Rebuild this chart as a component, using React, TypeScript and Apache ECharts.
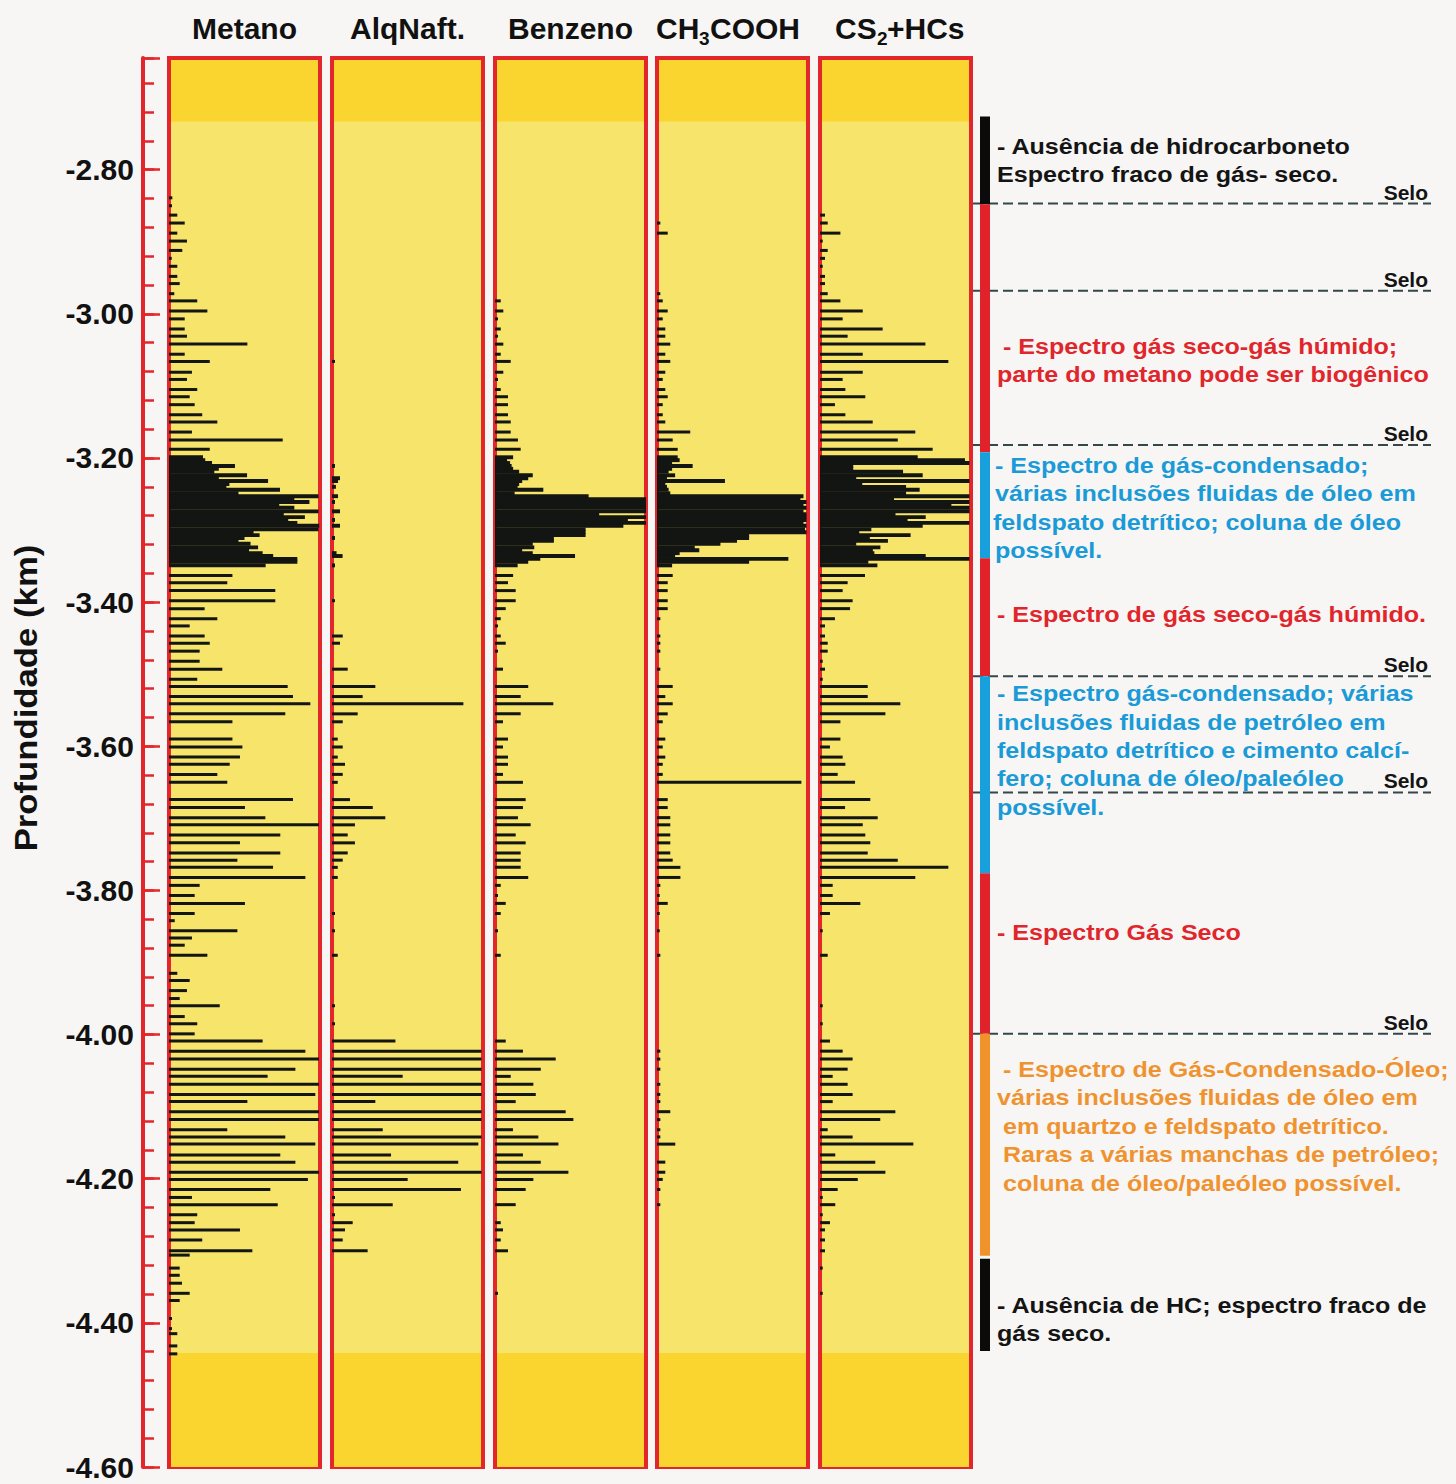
import React, { useEffect, useRef } from "react";
import * as echarts from "echarts";

// Depth range of the log (km, negative downwards)
const DEPTH_MIN = -4.6;
const DEPTH_MAX = -2.645;

const TRACK_NAMES = ["Metano", "AlqNaft.", "Benzeno", "CH3COOH", "CS2+HCs"];

// Closely spaced samples across the main show (-3.20 to -3.35 km)
const DENSE_DEPTHS = [
  -3.199, -3.203, -3.207, -3.211, -3.215, -3.219, -3.224, -3.228, -3.232, -3.236,
  -3.24, -3.244, -3.249, -3.253, -3.257, -3.261, -3.265, -3.269, -3.274, -3.278,
  -3.282, -3.286, -3.29, -3.294, -3.299, -3.303, -3.307, -3.311, -3.315, -3.319,
  -3.324, -3.328, -3.332, -3.336, -3.34, -3.344, -3.349,
];

// Relative response (% of track width) at each dense depth
const METANO_DENSE = [
  22.5, 24, 28.5, 43.7, 33, 30, 51.7, 33, 65.6, 40, 38, 73.5, 46, 99, 83, 93, 73, 83, 99,
  76, 90, 79, 85, 99.5, 99, 56, 60, 50, 46, 54, 59, 53, 62, 69, 85, 85, 64,
];
const ALQNAFT_DENSE = [
  0, 0, 0, 2, 0, 0, 0, 5.3, 4, 0, 2.6, 0, 0, 4, 0, 2, 0, 0, 5.3, 0, 0, 2, 0, 5.3, 0, 0, 0,
  2, 0, 0, 0, 0, 3, 7, 0, 0, 2,
];
const BENZENO_DENSE = [
  12, 8, 10, 11, 12, 16, 25, 22, 18, 16, 15, 32, 13, 62, 100, 100, 100, 100, 100, 69, 100,
  88, 100, 85, 60, 60, 60, 39, 39, 25, 26, 18, 25, 53, 30, 22, 15,
];
const ACETICO_DENSE = [
  13.7, 15, 10, 23.6, 10, 7.7, 12, 6.6, 45, 5.5, 6.6, 7.7, 8.8, 97, 95, 99, 97, 99, 97, 99,
  99, 99, 97, 99, 98, 99, 61, 61, 53, 42, 25, 28, 15, 12, 87, 61, 10,
];
const CS2_DENSE = [
  64.7, 96, 99, 22, 22, 55, 68, 24, 99, 28, 57, 66, 57, 99, 49, 99, 87, 99, 99, 50, 70, 58,
  99, 68, 34, 26, 60, 33, 45, 24, 40, 35, 36, 70, 99, 32, 38,
];

// Individual samples elsewhere: [depth km, response %]
const METANO = [
  [-2.839, 2.2], [-2.85, 2.0], [-2.863, 5.5], [-2.874, 10.4], [-2.888, 5.5], [-2.899, 11.9],
  [-2.912, 8.8], [-2.923, 1.8], [-2.934, 5.5], [-2.948, 5.5], [-2.958, 7.1], [-2.972, 3.5],
  [-2.982, 18.7], [-2.996, 25.4], [-3.007, 10.4], [-3.021, 10.4], [-3.031, 11.9], [-3.042, 51.9],
  [-3.056, 10.4], [-3.066, 27.0], [-3.081, 15.2], [-3.091, 11.9], [-3.105, 18.7], [-3.115, 13.7],
  [-3.126, 17.0], [-3.14, 22.0], [-3.15, 32.0], [-3.164, 15.2], [-3.175, 75.3], [-3.188, 27.0],
  [-3.363, 42.0], [-3.373, 38.6], [-3.384, 70.4], [-3.398, 70.4], [-3.409, 23.6], [-3.423, 32.0],
  [-3.433, 13.7], [-3.447, 23.6], [-3.457, 27.0], [-3.468, 20.3], [-3.482, 20.3], [-3.493, 35.3],
  [-3.507, 18.7], [-3.517, 78.6], [-3.531, 82.1], [-3.541, 93.6], [-3.555, 77.0], [-3.566, 42.0],
  [-3.59, 42.0], [-3.601, 48.6], [-3.615, 47.0], [-3.625, 40.2], [-3.639, 32.0], [-3.65, 38.6],
  [-3.674, 82.1], [-3.685, 50.3], [-3.699, 63.8], [-3.709, 99.3], [-3.723, 73.7], [-3.734, 47.0],
  [-3.748, 73.7], [-3.758, 45.3], [-3.768, 68.9], [-3.782, 90.3], [-3.793, 20.3], [-3.807, 17.0],
  [-3.818, 50.3], [-3.832, 17.0], [-3.842, 3.8], [-3.856, 45.3], [-3.866, 15.2], [-3.876, 10.4],
  [-3.89, 25.4], [-3.915, 5.5], [-3.925, 13.7], [-3.939, 11.9], [-3.95, 7.1], [-3.96, 33.6],
  [-3.975, 10.4], [-3.985, 18.7], [-3.999, 17.0], [-4.009, 62.0], [-4.023, 90.3], [-4.034, 99.3],
  [-4.048, 83.7], [-4.058, 65.3], [-4.069, 99.3], [-4.083, 96.9], [-4.093, 51.9], [-4.107, 99.3],
  [-4.118, 99.3], [-4.132, 38.6], [-4.142, 77.0], [-4.152, 96.9], [-4.167, 73.7], [-4.177, 83.7],
  [-4.191, 99.3], [-4.201, 92.0], [-4.215, 67.1], [-4.226, 15.2], [-4.236, 72.0], [-4.25, 18.7],
  [-4.261, 17.0], [-4.271, 47.0], [-4.285, 22.0], [-4.3, 55.2], [-4.306, 13.7], [-4.324, 7.1],
  [-4.334, 7.1], [-4.345, 8.6], [-4.359, 13.7], [-4.369, 7.1], [-4.394, 2.0], [-4.408, 2.0],
  [-4.415, 5.5], [-4.432, 5.5], [-4.443, 5.5],
];

const ALQNAFT = [
  [-3.066, 2.0], [-3.398, 2.0], [-3.447, 7.1], [-3.457, 5.3], [-3.493, 10.4], [-3.517, 28.7],
  [-3.531, 20.3], [-3.541, 87.0], [-3.555, 17.0], [-3.566, 7.1], [-3.59, 3.8], [-3.601, 7.1],
  [-3.615, 3.8], [-3.625, 8.6], [-3.639, 7.1], [-3.65, 3.8], [-3.674, 11.9], [-3.685, 27.0],
  [-3.699, 35.3], [-3.709, 15.2], [-3.723, 10.4], [-3.734, 15.2], [-3.748, 10.4], [-3.758, 7.1],
  [-3.768, 3.8], [-3.782, 3.8], [-3.832, 2.0], [-3.856, 2.0], [-3.89, 3.8], [-3.96, 2.0],
  [-3.985, 2.0], [-4.009, 42.0], [-4.023, 99.0], [-4.034, 99.0], [-4.048, 99.0], [-4.058, 46.8],
  [-4.069, 99.0], [-4.083, 99.0], [-4.093, 28.7], [-4.107, 99.0], [-4.118, 99.0], [-4.132, 33.6],
  [-4.142, 99.0], [-4.152, 96.9], [-4.167, 39.1], [-4.177, 83.6], [-4.191, 99.0], [-4.201, 50.1],
  [-4.215, 85.4], [-4.226, 2.0], [-4.236, 40.2], [-4.25, 2.0], [-4.261, 13.7], [-4.271, 8.6],
  [-4.285, 7.1], [-4.3, 23.6],
];

const BENZENO = [
  [-2.982, 3.8], [-2.996, 5.5], [-3.007, 2.0], [-3.021, 3.8], [-3.031, 2.0], [-3.042, 5.5],
  [-3.056, 3.8], [-3.066, 10.4], [-3.081, 5.5], [-3.091, 2.0], [-3.105, 3.8], [-3.115, 8.6],
  [-3.126, 8.6], [-3.14, 8.6], [-3.15, 10.4], [-3.164, 10.4], [-3.175, 15.2], [-3.188, 17.0],
  [-3.363, 12.0], [-3.373, 8.6], [-3.384, 13.7], [-3.398, 13.7], [-3.409, 7.1], [-3.423, 3.8],
  [-3.433, 2.0], [-3.447, 3.8], [-3.457, 7.1], [-3.468, 2.0], [-3.493, 5.3], [-3.517, 22.0],
  [-3.531, 17.0], [-3.541, 38.6], [-3.555, 17.0], [-3.566, 5.3], [-3.59, 8.6], [-3.601, 5.3],
  [-3.615, 8.6], [-3.625, 8.6], [-3.639, 5.3], [-3.65, 18.5], [-3.674, 20.3], [-3.685, 18.5],
  [-3.699, 15.2], [-3.709, 23.6], [-3.723, 13.7], [-3.734, 20.3], [-3.748, 17.0], [-3.758, 17.0],
  [-3.768, 17.0], [-3.782, 22.0], [-3.793, 3.8], [-3.807, 2.0], [-3.818, 7.1], [-3.832, 3.8],
  [-3.856, 2.0], [-3.89, 3.8], [-4.009, 7.1], [-4.023, 18.5], [-4.034, 40.2], [-4.048, 30.3],
  [-4.058, 10.4], [-4.069, 25.4], [-4.083, 27.0], [-4.093, 13.7], [-4.107, 46.8], [-4.118, 51.9],
  [-4.132, 11.9], [-4.142, 28.7], [-4.152, 42.0], [-4.167, 18.5], [-4.177, 30.3], [-4.191, 48.6],
  [-4.201, 25.4], [-4.215, 20.3], [-4.236, 13.7], [-4.261, 3.8], [-4.271, 5.3], [-4.285, 3.8],
  [-4.3, 8.6], [-4.359, 2.0],
];

const ACETICO = [
  [-2.874, 2.2], [-2.888, 7.1], [-2.972, 2.2], [-2.982, 3.8], [-2.996, 7.1], [-3.007, 3.8],
  [-3.021, 5.5], [-3.031, 5.5], [-3.042, 8.8], [-3.056, 5.5], [-3.066, 8.8], [-3.081, 5.5],
  [-3.091, 3.8], [-3.105, 5.5], [-3.115, 7.1], [-3.126, 3.8], [-3.14, 3.8], [-3.15, 5.5],
  [-3.164, 22.0], [-3.175, 10.4], [-3.188, 13.7], [-3.363, 10.4], [-3.373, 7.1], [-3.384, 7.1],
  [-3.398, 7.1], [-3.409, 7.1], [-3.423, 2.2], [-3.447, 2.2], [-3.457, 2.2], [-3.468, 2.2],
  [-3.493, 2.2], [-3.517, 10.4], [-3.531, 5.5], [-3.541, 10.4], [-3.555, 7.1], [-3.566, 3.8],
  [-3.59, 5.5], [-3.601, 3.8], [-3.615, 5.5], [-3.625, 3.8], [-3.639, 3.8], [-3.65, 95.6],
  [-3.674, 7.1], [-3.685, 7.1], [-3.699, 8.8], [-3.709, 8.8], [-3.723, 8.8], [-3.734, 8.8],
  [-3.748, 8.8], [-3.758, 10.4], [-3.768, 15.5], [-3.782, 15.5], [-3.793, 2.2], [-3.807, 1.8],
  [-3.818, 7.1], [-3.832, 1.8], [-3.856, 1.8], [-3.89, 2.2], [-4.023, 2.2], [-4.034, 2.2],
  [-4.048, 2.2], [-4.069, 2.2], [-4.083, 2.2], [-4.093, 2.2], [-4.107, 8.8], [-4.118, 2.2],
  [-4.132, 2.2], [-4.142, 2.2], [-4.152, 12.1], [-4.177, 5.5], [-4.191, 5.5], [-4.201, 3.8],
  [-4.215, 2.2], [-4.236, 2.2],
];

const CS2 = [
  [-2.863, 3.3], [-2.874, 5.1], [-2.888, 13.5], [-2.899, 1.8], [-2.912, 5.1], [-2.923, 3.3],
  [-2.934, 1.8], [-2.948, 3.3], [-2.958, 3.3], [-2.972, 5.1], [-2.982, 13.5], [-2.996, 28.3],
  [-3.007, 15.0], [-3.021, 41.5], [-3.031, 18.3], [-3.042, 69.8], [-3.056, 28.3], [-3.066, 85.0],
  [-3.081, 28.3], [-3.091, 15.0], [-3.105, 16.8], [-3.115, 30.0], [-3.126, 9.9], [-3.14, 16.8],
  [-3.15, 34.9], [-3.164, 63.1], [-3.175, 51.5], [-3.188, 74.6], [-3.363, 29.8], [-3.373, 18.3],
  [-3.384, 15.0], [-3.398, 21.6], [-3.409, 19.9], [-3.423, 9.9], [-3.433, 3.3], [-3.447, 3.3],
  [-3.457, 5.1], [-3.468, 5.1], [-3.482, 1.8], [-3.493, 3.3], [-3.507, 1.8], [-3.517, 31.6],
  [-3.531, 31.6], [-3.541, 53.2], [-3.555, 43.3], [-3.566, 13.5], [-3.59, 13.5], [-3.601, 6.6],
  [-3.615, 15.0], [-3.625, 16.8], [-3.639, 11.7], [-3.65, 23.2], [-3.674, 33.3], [-3.685, 16.6],
  [-3.699, 38.2], [-3.709, 28.3], [-3.723, 30.0], [-3.734, 33.3], [-3.748, 31.6], [-3.758, 51.5],
  [-3.768, 85.0], [-3.782, 63.1], [-3.793, 8.4], [-3.807, 8.4], [-3.818, 26.7], [-3.832, 6.6],
  [-3.856, 1.8], [-3.89, 5.1], [-3.96, 1.8], [-3.985, 1.8], [-4.009, 6.6], [-4.023, 15.0],
  [-4.034, 21.6], [-4.048, 18.3], [-4.058, 8.4], [-4.069, 18.3], [-4.083, 21.6], [-4.093, 8.4],
  [-4.107, 49.9], [-4.118, 39.9], [-4.132, 5.1], [-4.142, 21.6], [-4.152, 61.8], [-4.167, 10.1],
  [-4.177, 36.6], [-4.191, 43.3], [-4.201, 25.0], [-4.215, 11.7], [-4.226, 1.8], [-4.236, 10.1],
  [-4.25, 1.8], [-4.261, 6.6], [-4.271, 3.3], [-4.285, 3.3], [-4.3, 3.3], [-4.324, 1.8],
  [-4.359, 1.8],
];

// Darker bands at the top and bottom of every track: [from, to] depth
const EDGE_BANDS = [
  [-2.733, DEPTH_MAX],
  [DEPTH_MIN, -4.439],
];

// Interpretation column: [top depth, base depth, kind]; kind 0 none,1 dry/wet gas,2 condensate,3 oil
const ZONES = [
  [-2.726, -2.848, 0],
  [-2.848, -3.192, 1],
  [-3.192, -3.339, 2],
  [-3.339, -3.503, 1],
  [-3.503, -3.776, 2],
  [-3.776, -3.999, 1],
  [-3.999, -4.307, 3],
  [-4.311, -4.439, 0],
];

// Seal depths
const SEALS = [-2.847, -2.968, -3.182, -3.503, -3.664, -3.999];

const RED = "#e3262b";
const TRACK_BG = "#f6e46b";
const BAND_BG = "#fbd52f";
const BAR_COLOR = "#121512";
const ZONE_COLORS = ["#0b0b0b", "#e0232b", "#17a0dc", "#f0932b"];
const NOTE_COLORS = { k: "#141414", r: "#e0262c", b: "#1a9ad7", o: "#ef9331" };
const FONT = '"Liberation Sans", Arial, sans-serif';

const TRACK_LEFT = [169, 332, 495, 657, 820];
const TRACK_WIDTH = 151;
const PLOT_TOP = 58;
const PLOT_HEIGHT = 1409;

const SPARSE = [METANO, ALQNAFT, BENZENO, ACETICO, CS2];
const DENSE = [METANO_DENSE, ALQNAFT_DENSE, BENZENO_DENSE, ACETICO_DENSE, CS2_DENSE];

function sparseData(i: number) {
  return SPARSE[i].filter(([, v]) => v > 0).map(([d, v]) => [v, d]);
}

function denseData(i: number) {
  return DENSE[i]
    .map((v, k) => [v, DENSE_DEPTHS[k]])
    .filter((p) => p[0] > 0);
}

function barRenderer(thickness: number) {
  return (_params: any, api: any) => {
    const v = api.value(0);
    const d = api.value(1);
    const a = api.coord([0, d]);
    const b = api.coord([v, d]);
    return {
      type: "rect",
      shape: { x: a[0], y: a[1] - thickness / 2, width: b[0] - a[0], height: thickness },
      style: { fill: BAR_COLOR },
    };
  };
}

function renderBand(_params: any, api: any) {
  const a = api.coord([api.value(0), api.value(3)]);
  const b = api.coord([api.value(2), api.value(1)]);
  return {
    type: "rect",
    shape: { x: a[0] + 2, y: a[1] + 2, width: b[0] - a[0] - 4, height: b[1] - a[1] - 2 },
    style: { fill: BAND_BG },
  };
}

function renderZone(_params: any, api: any) {
  const a = api.coord([0, api.value(1)]);
  const b = api.coord([0, api.value(2)]);
  return {
    type: "rect",
    shape: { x: a[0] + 7, y: a[1], width: 10, height: b[1] - a[1] },
    style: { fill: ZONE_COLORS[api.value(3)] },
  };
}

function renderSeal(_params: any, api: any) {
  const d = api.value(1);
  const a = api.coord([0, d]);
  const b = api.coord([100, d]);
  return {
    type: "group",
    children: [
      {
        type: "line",
        shape: { x1: a[0], y1: a[1], x2: b[0], y2: a[1] },
        style: { stroke: "#34474b", lineWidth: 2, lineDash: [10, 5] },
      },
      {
        type: "text",
        x: b[0] - 3,
        y: a[1] - 1,
        style: {
          text: "Selo",
          fill: "#141414",
          font: `bold 21px ${FONT}`,
          textAlign: "right",
          align: "right",
          textVerticalAlign: "bottom",
          verticalAlign: "bottom",
        },
      },
    ],
  };
}

function depthLabel(v: number) {
  const r = Math.round(v * 100);
  if (r % 20 !== 0) return "";
  return (r / 100).toFixed(2);
}

// Annotation lines: text, left x, centre y, colour
const NOTE_LINES: Array<[string, number, number, keyof typeof NOTE_COLORS]> = [
  ["- Ausência de hidrocarboneto", 997, 147, "k"],
  ["Espectro fraco de gás- seco.", 997, 175, "k"],
  ["- Espectro gás seco-gás húmido;", 1003, 347, "r"],
  ["parte do metano pode ser biogênico", 997, 375, "r"],
  ["- Espectro de gás-condensado;", 995, 466, "b"],
  ["várias inclusões fluidas de óleo em", 995, 494, "b"],
  ["feldspato detrítico; coluna de óleo", 993, 523, "b"],
  ["possível.", 995, 551, "b"],
  ["- Espectro de gás seco-gás húmido.", 997, 615, "r"],
  ["- Espectro gás-condensado; várias", 997, 694, "b"],
  ["inclusões fluidas de petróleo em", 997, 723, "b"],
  ["feldspato detrítico e cimento calcí-", 997, 751, "b"],
  ["fero; coluna de óleo/paleóleo", 997, 779, "b"],
  ["possível.", 997, 808, "b"],
  ["- Espectro Gás Seco", 997, 933, "r"],
  ["- Espectro de Gás-Condensado-Óleo;", 1003, 1070, "o"],
  ["várias inclusões fluidas de óleo em", 997, 1098, "o"],
  ["em quartzo e feldspato detrítico.", 1003, 1127, "o"],
  ["Raras a várias manchas de petróleo;", 1003, 1155, "o"],
  ["coluna de óleo/paleóleo possível.", 1003, 1184, "o"],
  ["- Ausência de HC; espectro fraco de", 997, 1306, "k"],
  ["gás seco.", 997, 1334, "k"],
];

function txt(text: string, x: number, y: number, size: number, align: string, fill = "#111", extra: any = {}) {
  return {
    type: "text",
    x,
    y,
    silent: true,
    ...extra,
    style: {
      text,
      fill,
      font: `bold ${size}px ${FONT}`,
      textAlign: align,
      align,
      textVerticalAlign: "middle",
      verticalAlign: "middle",
    },
  };
}

function buildOption() {
  const grids: any[] = TRACK_LEFT.map((left) => ({
    left,
    top: PLOT_TOP,
    width: TRACK_WIDTH,
    height: PLOT_HEIGHT,
    show: true,
    backgroundColor: TRACK_BG,
    borderColor: RED,
    borderWidth: 4,
  }));
  grids.push({ left: 973, top: PLOT_TOP, width: 458, height: PLOT_HEIGHT, show: false });

  const xAxes = grids.map((_g, i) => ({ gridIndex: i, type: "value", min: 0, max: 100, show: false }));

  const yAxes: any[] = grids.map((_g, i) => {
    if (i > 0) return { gridIndex: i, type: "value", min: DEPTH_MIN, max: DEPTH_MAX, show: false };
    return {
      gridIndex: 0,
      type: "value",
      min: DEPTH_MIN,
      max: DEPTH_MAX,
      interval: 0.04,
      position: "left",
      offset: 26,
      axisLine: { show: true, onZero: false, lineStyle: { color: RED, width: 4 } },
      axisTick: { show: true, inside: true, length: 11, lineStyle: { color: RED, width: 2.5 } },
      axisLabel: {
        show: true,
        formatter: depthLabel,
        fontSize: 30,
        fontWeight: "bold",
        fontFamily: FONT,
        color: "#111",
        margin: 9,
      },
      splitLine: { show: false },
    };
  });
  // longer ticks at every labelled depth
  yAxes.push({
    gridIndex: 0,
    type: "value",
    min: DEPTH_MIN,
    max: DEPTH_MAX,
    interval: 0.2,
    position: "left",
    offset: 26,
    axisLine: { show: false, onZero: false },
    axisTick: { show: true, inside: true, length: 17, lineStyle: { color: RED, width: 2.5 } },
    axisLabel: { show: false },
    splitLine: { show: false },
  });

  const series: any[] = [];
  TRACK_NAMES.forEach((name, i) => {
    series.push({
      type: "custom",
      name: name + " bands",
      xAxisIndex: i,
      yAxisIndex: i,
      silent: true,
      z: 1,
      data: EDGE_BANDS.map(([d1, d2]) => [0, d1, 100, d2]),
      encode: { x: [0, 2], y: [1, 3] },
      renderItem: renderBand,
    });
    series.push({
      type: "custom",
      name,
      xAxisIndex: i,
      yAxisIndex: i,
      silent: true,
      z: 2,
      data: sparseData(i),
      encode: { x: 0, y: 1 },
      renderItem: barRenderer(3),
    });
    series.push({
      type: "custom",
      name: name + " (denso)",
      xAxisIndex: i,
      yAxisIndex: i,
      silent: true,
      z: 2,
      data: denseData(i),
      encode: { x: 0, y: 1 },
      renderItem: barRenderer(3.9),
    });
  });
  series.push({
    type: "custom",
    name: "Selo",
    xAxisIndex: 5,
    yAxisIndex: 5,
    silent: true,
    z: 3,
    data: SEALS.map((d) => [0, d]),
    encode: { x: 0, y: 1 },
    renderItem: renderSeal,
  });
  series.push({
    type: "custom",
    name: "Zonas",
    xAxisIndex: 5,
    yAxisIndex: 5,
    silent: true,
    z: 4,
    data: ZONES.map(([a, b, k]) => [0, a, b, k]),
    encode: { x: 0, y: [1, 2] },
    renderItem: renderZone,
  });

  const centres = TRACK_LEFT.map((l) => l + TRACK_WIDTH / 2);
  const graphic: any[] = [
    txt("Metano", centres[0], 28, 30, "center"),
    txt("AlqNaft.", centres[1], 28, 30, "center"),
    txt("Benzeno", centres[2], 28, 30, "center"),
    // CH3COOH with subscript
    txt("CH", 656, 28, 30, "left"),
    txt("3", 699, 38, 19, "left"),
    txt("COOH", 710, 28, 30, "left"),
    // CS2+HCs with subscript
    txt("CS", 835, 28, 30, "left"),
    txt("2", 877, 38, 19, "left"),
    txt("+HCs", 887, 28, 30, "left"),
    txt("Profundidade (km)", 26, 698, 31, "center", "#111", { rotation: Math.PI / 2, scaleX: 1.12 }),
  ];
  NOTE_LINES.forEach(([t, x, y, c]) => {
    graphic.push(txt(t, x, y, 22, "left", NOTE_COLORS[c], { scaleX: 1.14 }));
  });

  return {
    animation: false,
    backgroundColor: "#f7f6f4",
    textStyle: { fontFamily: FONT },
    grid: grids,
    xAxis: xAxes,
    yAxis: yAxes,
    series,
    graphic,
  };
}

export default function App() {
  const ref = useRef<HTMLDivElement>(null);
  useEffect(() => {
    if (!ref.current) return;
    const chart = echarts.init(ref.current, null, { renderer: "svg" });
    chart.setOption(buildOption() as any);
    return () => chart.dispose();
  }, []);
  return (
    <div
      ref={ref}
      style={{ position: "absolute", left: 0, top: 0, width: 1456, height: 1484 }}
    />
  );
}
